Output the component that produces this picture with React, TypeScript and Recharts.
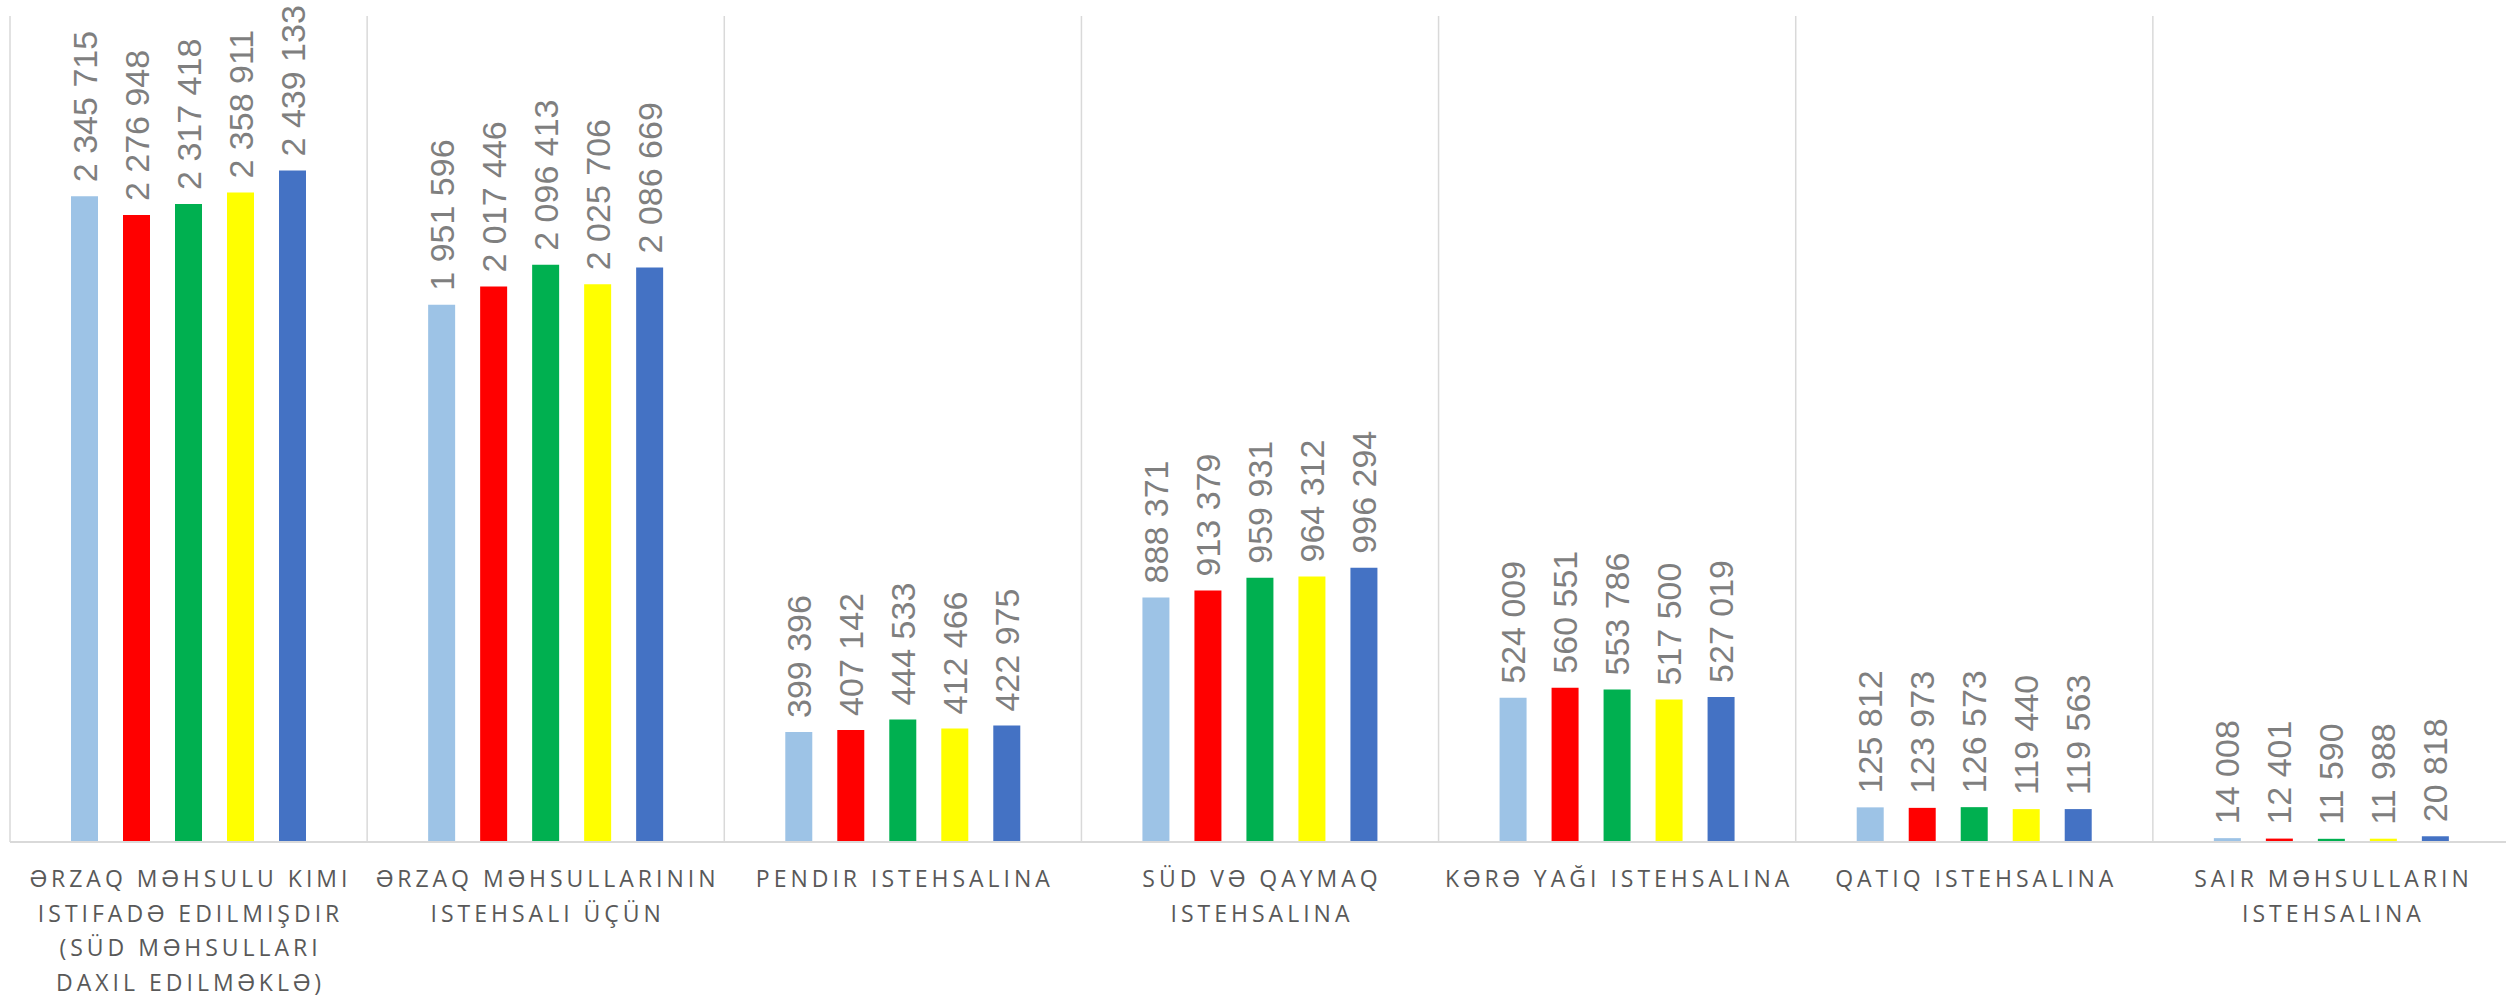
import { BarChart, Bar, XAxis, YAxis, CartesianGrid, LabelList } from 'recharts';

// category labels, line breaks as they appear under the axis
const categories = [
  'ƏRZAQ MƏHSULU KIMI\nISTIFADƏ EDILMIŞDIR\n(SÜD MƏHSULLARI\nDAXIL EDILMƏKLƏ)',
  'ƏRZAQ MƏHSULLARININ\nISTEHSALI ÜÇÜN',
  'PENDIR ISTEHSALINA',
  'SÜD VƏ QAYMAQ\nISTEHSALINA',
  'KƏRƏ YAĞI ISTEHSALINA',
  'QATIQ ISTEHSALINA',
  'SAIR MƏHSULLARIN\nISTEHSALINA',
];

const series1 = [2345715, 1951596, 399396, 888371, 524009, 125812, 14008];
const series2 = [2276948, 2017446, 407142, 913379, 560551, 123973, 12401];
const series3 = [2317418, 2096413, 444533, 959931, 553786, 126573, 11590];
const series4 = [2358911, 2025706, 412466, 964312, 517500, 119440, 11988];
const series5 = [2439133, 2086669, 422975, 996294, 527019, 119563, 20818];

const seriesKeys = ['s1', 's2', 's3', 's4', 's5'];
const seriesColors = ['#9DC3E6', '#FF0000', '#00B050', '#FFFF00', '#4472C4'];

const data = categories.map((name, i) => ({
  name,
  s1: series1[i],
  s2: series2[i],
  s3: series3[i],
  s4: series4[i],
  s5: series5[i],
}));

const fmt = (v: number) => v.toLocaleString('en-US').replace(/,/g, ' ');

function ValueLabel(props: any) {
  const { x, y, width, value } = props;
  const cx = Number(x) + Number(width) / 2;
  const cy = Number(y) - 14;
  return (
    <text
      transform={`translate(${cx}, ${cy}) rotate(-90)`}
      textAnchor="start"
      dominantBaseline="central"
      fill="#7F7F7F"
      fontSize={34}
      fontFamily="'Liberation Sans', Arial, sans-serif"
    >
      {fmt(Number(value))}
    </text>
  );
}

function CategoryTick(props: any) {
  const { x, y, payload } = props;
  const lines = String(payload.value).split('\n');
  return (
    <text
      x={x}
      y={y}
      textAnchor="middle"
      fill="#595959"
      fontSize={23}
      letterSpacing={4}
      fontFamily="'Open Sans', sans-serif"
    >
      {lines.map((line, i) => (
        <tspan key={i} x={x + 2} dy={i === 0 ? 45 : 34.5}>
          {line}
        </tspan>
      ))}
    </text>
  );
}

export default function App() {
  return (
    <div
      style={{
        position: 'absolute',
        left: 0,
        top: 0,
        width: 2506,
        height: 998,
        overflow: 'hidden',
        background: '#fff',
      }}
    >
      <BarChart
        width={2510}
        height={998}
        data={data}
        margin={{ top: 16, right: 0, bottom: 0, left: 10 }}
        barSize={27}
        barGap={25}
      >
        <CartesianGrid
          horizontal={false}
          stroke="#D9D9D9"
          strokeWidth={1.5}
          verticalCoordinatesGenerator={({ offset }: any) =>
            categories.map((_, i) => offset.left + (i * offset.width) / categories.length).concat([
              offset.left + offset.width,
            ])
          }
        />
        <XAxis
          dataKey="name"
          interval={0}
          height={156}
          tickSize={0}
          tickMargin={0}
          tickLine={false}
          axisLine={{ stroke: '#D9D9D9', strokeWidth: 2 }}
          tick={<CategoryTick />}
        />
        <YAxis hide domain={[0, 3000000]} />
        {seriesKeys.map((key, i) => (
          <Bar key={key} dataKey={key} fill={seriesColors[i]} isAnimationActive={false}>
            <LabelList dataKey={key} content={<ValueLabel />} />
          </Bar>
        ))}
      </BarChart>
    </div>
  );
}
